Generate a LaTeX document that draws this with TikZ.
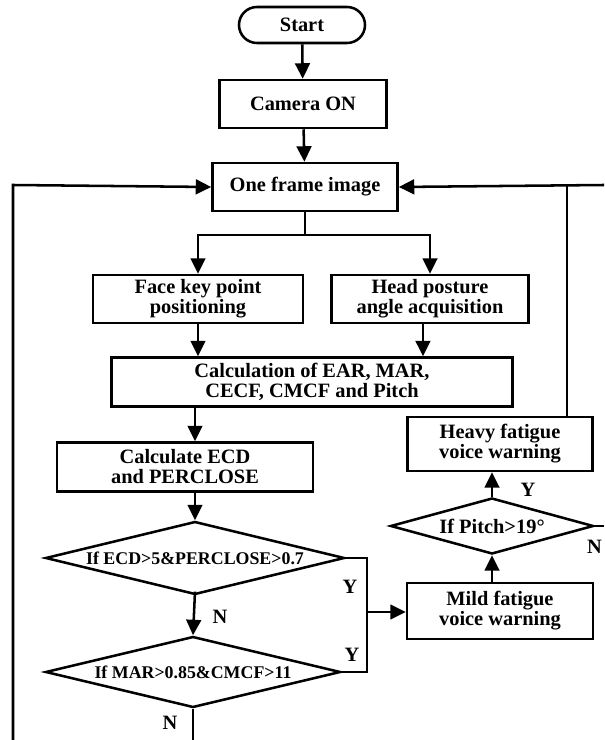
\documentclass[tikz,border=0pt]{standalone}
\usepackage{fontspec}
\setmainfont{Liberation Serif}
\usetikzlibrary{arrows.meta,positioning,shapes.geometric}

\begin{document}
\begin{tikzpicture}[
  x=0.025cm,y=-0.025cm,
  font=\fontsize{14.5}{14.2}\selectfont\bfseries,
  >={Triangle[width=10.5pt,length=11pt]},
  line width=1.8pt,
  block/.style={draw,inner sep=0pt,align=center,minimum height=1.2cm},
  term/.style={block,rounded corners=0.45cm,minimum height=0.9cm},
  decision/.style={draw,diamond,aspect=4,inner sep=0pt,align=center},
  small/.style={font=\fontsize{12.7}{13}\selectfont\bfseries},
  flow/.style={->},
  lbl/.style={inner sep=0pt}
]
\path[use as bounding box,clip] (0,0) rectangle (604,740);

\node[term,minimum width=3.15cm] (start) at (302,25) {Start};
\node[block,minimum width=4.175cm] (cam) at (303,104) {Camera ON};
\node[block,minimum width=4.625cm] (frame) at (305,187) {One frame image};

\node[block,minimum width=5.25cm] (face) at (198,299) {Face key point\\positioning};
\node[block,minimum width=4.925cm] (head) at (430,299) {Head posture\\angle acquisition};
\node[block,minimum width=10.025cm,minimum height=1.225cm] (calc) at (312,382) {Calculation of EAR, MAR,\\CECF, CMCF and Pitch};
\node[block,minimum width=6.4cm,minimum height=1.225cm] (ecd) at (185,467) {Calculate ECD\\and PERCLOSE};

\node[decision,small,minimum width=7.475cm,minimum height=1.825cm] (eye) at (195,558) {If ECD>5\&PERCLOSE>0.7};
\node[decision,small,minimum width=7.375cm,minimum height=1.775cm] (mouth) at (193,672) {If MAR>0.85\&CMCF>11};

\node[block,minimum width=4.65cm,minimum height=1.4cm] (mild) at (500,611) {Mild fatigue\\voice warning};
\node[decision,minimum width=5.075cm,minimum height=1.4cm] (pitch) at (492,526) {If Pitch>19°};
\node[block,minimum width=4.625cm,minimum height=1.35cm] (heavy) at (500,444) {Heavy fatigue\\voice warning};

% free ends of the loops
\coordinate (split) at (305,235);
\coordinate (yjoin) at (367,612);
\coordinate (ltop) at (13,185);
\coordinate (lbot) at (13,740);
\coordinate (rtop) at (604,185);
\coordinate (rjoin) at (567,185);

\draw[flow] (start) -- (cam);
\draw[flow] (cam) -- (frame);
\draw (frame) -- (split);
\draw[flow] (split) -| (face);
\draw[flow] (split) -| (head);
\draw[flow] (face.south) -- (face.south |- calc.north);
\draw[flow] ([xshift=-5]head.south) -- ([xshift=-5]head.south |- calc.north);
\draw[flow] (calc.south -| eye) -- (ecd.north -| eye);
\draw[flow] (ecd.south -| eye) -- (eye.north);
\draw[flow] ([yshift=3]eye.south) -- (mouth.north);

\draw (eye.east) -| (yjoin) |- (mouth.east);
\draw[flow] (yjoin) -- (mild.west |- yjoin);
\draw[flow] (mild.north -| pitch) -- (pitch.south);
\draw[flow] (pitch.north) -- (pitch.north |- heavy.south);
\draw (pitch.east) -- (pitch.east -| rtop);
\draw (heavy.north -| rjoin) -- (rjoin);
\draw[flow] (rtop) -- (frame.east);
\draw (mouth.south) -- (mouth.south |- lbot);
\draw[flow] (lbot) -- (ltop) -- (frame.west);

\node[lbl] at (350,587) {Y};
\node[lbl] at (352,655) {Y};
\node[lbl] at (220,617) {N};
\node[lbl] at (170,723) {N};
\node[lbl] at (528,490) {Y};
\node[lbl,anchor=east] at (603,547) {N};
\end{tikzpicture}
\end{document}
